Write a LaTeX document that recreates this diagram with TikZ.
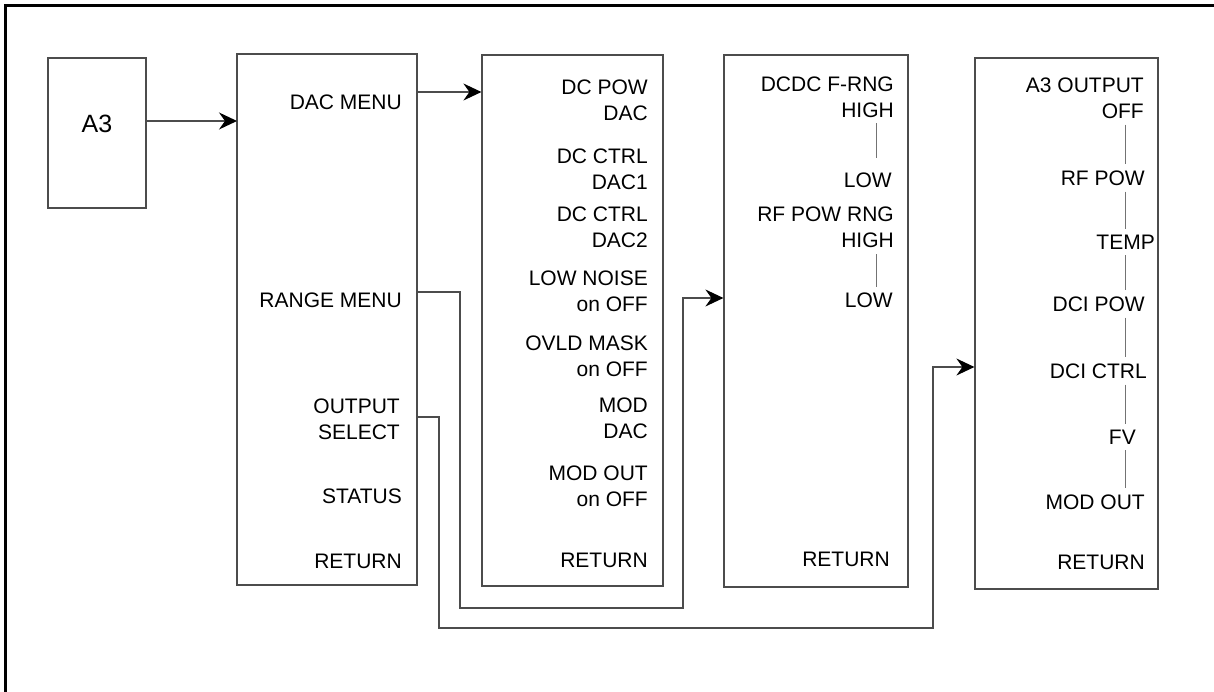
\documentclass[tikz,border=0pt]{standalone}
\usepackage{fontspec}
\setmainfont{Liberation Sans}
\usepackage{tikz}
\usetikzlibrary{positioning,arrows.meta,calc}

\begin{document}
\begin{tikzpicture}[
  x=1pt, y=-1pt,
  font=\fontsize{21}{26}\selectfont,
  menubox/.style={draw=black!70, line width=1.2pt, inner sep=0pt},
  item/.style={anchor=east, inner sep=0pt, align=right},
  link/.style={draw=black!70, line width=1.2pt},
  arr/.style={link, -{Stealth[length=18pt, width=17pt, inset=6pt, black]}},
  vline/.style={draw=black!55, line width=1pt, shorten <=6pt, shorten >=6pt},
  frame/.style={line width=3pt, black},
  ]
  \useasboundingbox (0,0) rectangle (1214,692);
  \draw[frame] (5.5,692) -- (5.5,5.5) -- (1214,5.5);

  % A3 box and top menu
  \node[menubox, minimum width=98pt, minimum height=150pt] (a3) at (97,133) {};
  \node[inner sep=0pt, font=\fontsize{25}{30}\selectfont] (a3lbl) at (97,124) {A3};
  \node[menubox, minimum width=180pt, minimum height=531pt] (main) at (327,319.5) {};
  \node[item] (dacmenu) at (402,102) {DAC MENU};
  \node[item] (rngmenu) at (402,300) {RANGE MENU};
  \node[item] (outsel)  at (400,419) {OUTPUT\\SELECT};
  \node[item] (status)  at (402,496) {STATUS};
  \node[item] (ret1)    at (402,561) {RETURN};

  % DAC menu
  \node[menubox, minimum width=181pt, minimum height=531pt] (dac) at (572.5,320.5) {};
  \node[item] (dcpow)    at (648,100.5) {DC POW\\DAC};
  \node[item] (dcctrl1)  at (648,169)   {DC CTRL\\DAC1};
  \node[item] (dcctrl2)  at (648,227.5) {DC CTRL\\DAC2};
  \node[item] (lownoise) at (648,291.5) {LOW NOISE\\on OFF};
  \node[item] (ovld)     at (648,356)   {OVLD MASK\\on OFF};
  \node[item] (moddac)   at (648,418)   {MOD\\DAC};
  \node[item] (modout)   at (648,486)   {MOD OUT\\on OFF};
  \node[item] (ret2)     at (648,560)   {RETURN};

  % Range menu
  \node[menubox, minimum width=184pt, minimum height=532pt] (rng) at (816,321) {};
  \node[item] (dcdc)     at (894,97.5)  {DCDC F-RNG\\HIGH};
  \node[item] (dcdclow)  at (892,180.5) {LOW};
  \node[item] (rfrng)    at (894,227.5) {RF POW RNG\\HIGH};
  \node[item] (rfrnglow) at (893,300.5) {LOW};
  \node[item] (ret3)     at (890,559)   {RETURN};
  \coordinate (col3) at (876,0);
  \draw[vline, shorten <=5pt, shorten >=15pt] (dcdc.south -| col3) -- (dcdclow.north -| col3);
  \draw[vline] (rfrng.south -| col3) -- (rfrnglow.north -| col3);

  % Output select menu
  \node[menubox, minimum width=183pt, minimum height=531pt] (osel) at (1066.5,323.5) {};
  \node[item] (a3out)   at (1144,98)  {A3 OUTPUT\\OFF};
  \node[item] (rfpow)   at (1145,178) {RF POW};
  \node[item] (temp)    at (1155,242) {TEMP};
  \node[item] (dcipow)  at (1145,304) {DCI POW};
  \node[item] (dcictrl) at (1147,371) {DCI CTRL};
  \node[item] (fv)      at (1136,437) {FV};
  \node[item] (modout4) at (1145,502) {MOD OUT};
  \node[item] (ret4)    at (1145,562) {RETURN};
  \coordinate (col4) at (1125,0);
  \draw[vline] (a3out.south -| col4) -- (rfpow.north -| col4);
  \draw[vline] (rfpow.south -| col4) -- (temp.north -| col4);
  \draw[vline] (temp.south -| col4) -- (dcipow.north -| col4);
  \draw[vline] (dcipow.south -| col4) -- (dcictrl.north -| col4);
  \draw[vline] (dcictrl.south -| col4) -- (fv.north -| col4);
  \draw[vline] (fv.south -| col4) -- (modout4.north -| col4);

  % Arrows
  \coordinate (a3in) at (237,121);
  \draw[arr] (a3.east |- a3in) -- (a3in);
  \coordinate (dacout) at (417,92);
  \draw[arr] (dacout) -- (dacout -| dac.west);
  \coordinate (rngout) at (417,292);
  \coordinate (rngbend) at (683,298);
  \draw[arr] (rngout) -| (460,608) -| (rngbend) -- (rngbend -| rng.west);
  \coordinate (oselout) at (417,417);
  \coordinate (oselbend) at (933,367);
  \draw[arr] (oselout) -| (439,628) -| (oselbend) -- (oselbend -| osel.west);
\end{tikzpicture}
\end{document}
